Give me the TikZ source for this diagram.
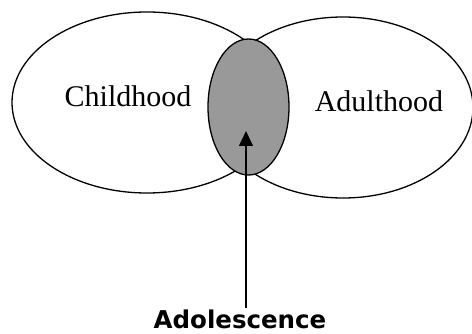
\documentclass[tikz,border=0pt]{standalone}
\usepackage{fontspec}
\setmainfont{Liberation Serif}
\newfontfamily\labelfont{DejaVu Sans}
\usetikzlibrary{shapes.geometric,arrows.meta}
\begin{document}
\begin{tikzpicture}[x=1pt,y=-1pt,
  stage/.style={ellipse,draw=black,line width=1.3pt,inner sep=0pt},
  stagetext/.style={font=\fontsize{30}{30}\selectfont,anchor=base,inner sep=0pt},
  pointer/.style={-{Triangle[width=14pt,length=15pt]},line width=1.3pt}]
\useasboundingbox (0,0) rectangle (472,334);
\node[stage,minimum width=270pt,minimum height=181pt] (child) at (147,102.5) {};
\node[stage,minimum width=260pt,minimum height=181pt] (adult) at (343,107.5) {};
\node[stage,fill=black!40,minimum width=81pt,minimum height=136pt] (adol) at (248.5,107) {};
\node[stagetext] (ct) at (128,107) {Childhood};
\node[stagetext] (at) at (379,112) {Adulthood};
\node[anchor=base,inner sep=0pt,font=\labelfont\bfseries\fontsize{24.5}{24.5}\selectfont] (lab) at (240,328) {Adolescence};
\coordinate (tip) at (246,131);
\draw[pointer] (lab.north -| tip) ++(0,-1) -- (tip);
\end{tikzpicture}
\end{document}
